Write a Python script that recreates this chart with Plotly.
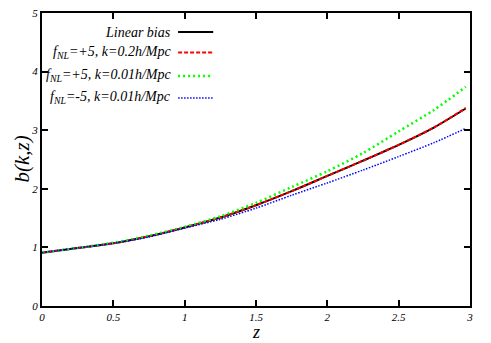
import plotly.graph_objects as go

z = [0.0, 0.25, 0.5, 0.75, 1.0, 1.25, 1.5, 1.75, 2.0, 2.25, 2.5, 2.75, 2.97]
b_linear = [0.91, 0.99, 1.07, 1.19, 1.34, 1.51, 1.72, 1.96, 2.22, 2.48, 2.75, 3.05, 3.37]
b_p5_k02 = [0.91, 0.99, 1.07, 1.19, 1.34, 1.51, 1.72, 1.96, 2.22, 2.48, 2.75, 3.05, 3.38]
b_p5_k001 = [0.91, 0.99, 1.08, 1.20, 1.35, 1.53, 1.76, 2.03, 2.30, 2.61, 2.98, 3.35, 3.74]
b_m5_k001 = [0.91, 0.99, 1.07, 1.18, 1.33, 1.48, 1.67, 1.89, 2.10, 2.32, 2.55, 2.79, 3.03]

labels = ["<i>Linear bias</i>",
          "<i>f<sub>NL</sub>=+5, k=0.2h/Mpc</i>",
          "<i>f<sub>NL</sub>=+5, k=0.01h/Mpc</i>",
          "<i>f<sub>NL</sub>=-5, k=0.01h/Mpc</i>"]
series = [b_linear, b_p5_k02, b_p5_k001, b_m5_k001]
colors = ["#000000", "#ff0000", "#00ff00", "#0000ff"]
dashes = ["solid", "4px,2px", "2px,3px", "1.5px,1.5px"]
widths = [2, 2, 2.5, 1.5]

x_ticks = [0, 0.5, 1, 1.5, 2, 2.5, 3]
x_ticktext = ["0", "0.5", "1", "1.5", "2", "2.5", "3"]
y_ticks = [0, 1, 2, 3, 4, 5]

FONT = "Liberation Serif, Times New Roman, Times, serif"

fig = go.Figure()
for s, c, d, w in zip(series, colors, dashes, widths):
    fig.add_trace(go.Scatter(x=z, y=s, mode="lines", showlegend=False,
                             line=dict(color=c, dash=d, width=w, shape="spline", smoothing=0.8)))

# gnuplot-style legend: right-aligned text, sample line on right
row_y = [0.935, 0.865, 0.785, 0.71]
for lab, c, d, w, yy in zip(labels, colors, dashes, widths, row_y):
    fig.add_annotation(xref="paper", yref="paper", x=0.305, y=yy, text=lab,
                       showarrow=False, xanchor="right", yanchor="middle",
                       font=dict(family=FONT, size=14, color="#000000"))
    fig.add_shape(type="line", xref="paper", yref="paper", x0=0.318, x1=0.40,
                  y0=yy, y1=yy, line=dict(color=c, dash=d, width=w))

# axis titles
fig.add_annotation(xref="paper", yref="paper", x=0.5, y=0, yshift=-26, text="<i>z</i>",
                   showarrow=False, xanchor="center", yanchor="middle",
                   font=dict(family=FONT, size=18, color="#000000"))
fig.add_annotation(xref="paper", yref="paper", x=0, y=0.5, xshift=-21, text="<i>b(k,z)</i>",
                   showarrow=False, xanchor="center", yanchor="middle", textangle=-90,
                   font=dict(family=FONT, size=21, color="#000000"))

axis_common = dict(showgrid=False, zeroline=False, showline=True, linecolor="#000000",
                   linewidth=2, mirror="allticks", ticks="inside", ticklen=6,
                   tickcolor="#000000", tickwidth=1.5, automargin=False,
                   tickfont=dict(family=FONT, size=11, color="#000000"))

fig.update_xaxes(range=[0, 3], tickvals=x_ticks, ticktext=["<i>%s</i>" % t for t in x_ticktext],
                 **axis_common)
fig.update_yaxes(range=[0, 5], tickvals=y_ticks, ticktext=["<i>%d</i>" % t for t in y_ticks],
                 **axis_common)

fig.update_layout(width=491, height=343, margin=dict(l=42, r=21, t=13, b=37, autoexpand=False),
                  plot_bgcolor="white", paper_bgcolor="white",
                  font=dict(family=FONT))

fig.write_html("out.html", config={"displayModeBar": False},
               post_script="document.body.style.margin='0';document.body.style.overflow='hidden';")
